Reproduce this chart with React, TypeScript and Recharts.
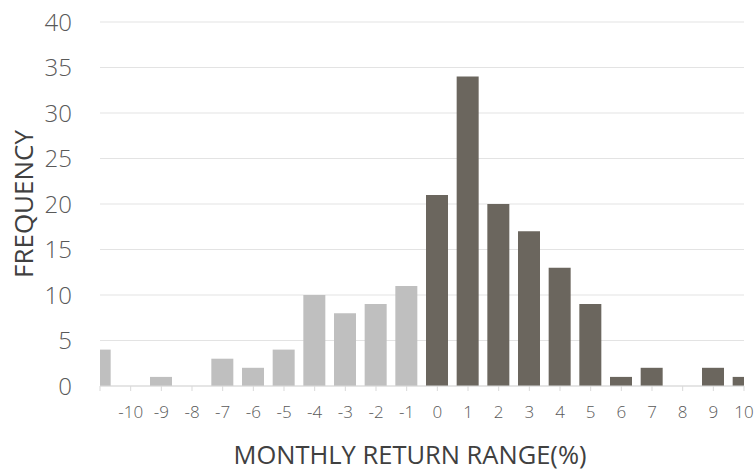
import { Bar, BarChart, CartesianGrid, Cell, Label, XAxis, YAxis } from 'recharts';

// monthly return bucket (%) and how many months fell in it
const RETURN_BUCKETS = [-11, -10, -9, -8, -7, -6, -5, -4, -3, -2, -1, 0, 1, 2, 3, 4, 5, 6, 7, 8, 9, 10];
const FREQUENCIES = [4, 0, 1, 0, 3, 2, 4, 10, 8, 9, 11, 21, 34, 20, 17, 13, 9, 1, 2, 0, 2, 1];
const X_TICKS = RETURN_BUCKETS;
const Y_TICKS = [0, 5, 10, 15, 20, 25, 30, 35, 40];

const data = RETURN_BUCKETS.map((bucket, i) => ({ bucket, frequency: FREQUENCIES[i] }));

const FONT = '"Segoe UI", "Open Sans", "Noto Sans", sans-serif';
const LOSS = '#bfbfbf';
const GAIN = '#6b665e';

export default function App() {
  return (
    <div style={{ position: 'absolute', left: 0, top: 0, width: 754, height: 470, background: '#fff', fontFamily: FONT }}>
      <BarChart width={754} height={470} data={data} margin={{ top: 22, right: 10, bottom: 0, left: 0 }}>
        <CartesianGrid stroke="#e3e3e3" vertical={false} />
        <XAxis
          dataKey="bucket"
          type="number"
          domain={[-11, 10]}
          allowDataOverflow
          ticks={X_TICKS}
          interval={0}
          tickFormatter={(v: number) => (v === -11 ? '' : String(v))}
          height={84}
          stroke="#d9d9d9"
          tickSize={5}
          tickMargin={15}
          tick={{ fill: '#595959', fontSize: 17, fontWeight: 300, fontFamily: FONT }}
        >
          <Label
            value="MONTHLY RETURN RANGE(%)"
            position="insideBottom"
            offset={6}
            dx={-12}
            style={{ fill: '#404040', fontSize: 25.5, fontFamily: FONT }}
          />
        </XAxis>
        <YAxis
          domain={[0, 40]}
          ticks={Y_TICKS}
          width={100}
          axisLine={false}
          tickLine={false}
          tickSize={0}
          tickMargin={28}
          tick={{ fill: '#595959', fontSize: 24, fontWeight: 300, fontFamily: FONT }}
        >
          <Label
            value="FREQUENCY"
            position="center"
            angle={-90}
            dx={-26}
            style={{ fill: '#404040', fontSize: 26, fontFamily: FONT, textAnchor: 'middle' }}
          />
        </YAxis>
        <Bar dataKey="frequency" barSize={22} isAnimationActive={false}>
          {data.map((d) => (
            <Cell key={d.bucket} fill={d.bucket < 0 ? LOSS : GAIN} />
          ))}
        </Bar>
      </BarChart>
    </div>
  );
}
